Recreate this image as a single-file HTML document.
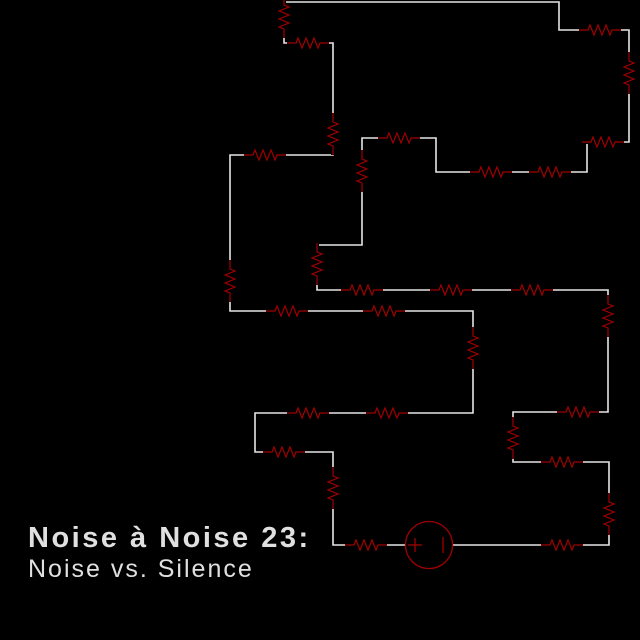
<!DOCTYPE html>
<html><head><meta charset="utf-8"><style>
html,body{margin:0;padding:0;background:#000;}
svg{display:block}
</style></head><body>
<svg width="640" height="640" viewBox="0 0 640 640" xmlns="http://www.w3.org/2000/svg">
<defs>
<g id="r">
<line x1="-21" y1="0" x2="21" y2="0" stroke="#000" stroke-width="4"/>
<path d="M-21 0H-12l2-5l4 10l4-10l4 10l4-10l4 10l2-5H21" fill="none" stroke="#a00000" stroke-width="1.2"/>
</g>
</defs>
<rect width="640" height="640" fill="#000"/>
<g fill="none" stroke="#e6e6e6" stroke-width="1.6">
<polyline points="452,545 609,545 609,462 513,462 513,412 608,412 608,290 317,290 317,245 362,245 362,138 436,138 436,172 587,172 587,142 629,142 629,30 559,30 559,2 284,2 284,43 333,43 333,155 230,155 230,311 473,311 473,413 255,413 255,452 333,452 333,545 405,545"/>
</g>
<g>
<use href="#r" transform="translate(600,30)"/>
<use href="#r" transform="translate(629,73) rotate(90)"/>
<use href="#r" transform="translate(603,142)"/>
<use href="#r" transform="translate(491,172)"/>
<use href="#r" transform="translate(550,172)"/>
<use href="#r" transform="translate(399,138)"/>
<use href="#r" transform="translate(362,171) rotate(90)"/>
<use href="#r" transform="translate(317,264) rotate(90)"/>
<use href="#r" transform="translate(362,290)"/>
<use href="#r" transform="translate(451,290)"/>
<use href="#r" transform="translate(532,290)"/>
<use href="#r" transform="translate(608,316) rotate(90)"/>
<use href="#r" transform="translate(578,412)"/>
<use href="#r" transform="translate(513,438) rotate(90)"/>
<use href="#r" transform="translate(562,462)"/>
<use href="#r" transform="translate(609,514) rotate(90)"/>
<use href="#r" transform="translate(562,545)"/>
<use href="#r" transform="translate(366,545)"/>
<use href="#r" transform="translate(333,488) rotate(90)"/>
<use href="#r" transform="translate(284,452)"/>
<use href="#r" transform="translate(308,413)"/>
<use href="#r" transform="translate(387,413)"/>
<use href="#r" transform="translate(473,348) rotate(90)"/>
<use href="#r" transform="translate(287,311)"/>
<use href="#r" transform="translate(384,311)"/>
<use href="#r" transform="translate(230,281) rotate(90)"/>
<use href="#r" transform="translate(265,155)"/>
<use href="#r" transform="translate(333,134) rotate(90)"/>
<use href="#r" transform="translate(308,43)"/>
<use href="#r" transform="translate(284,17) rotate(90)"/>
</g>
<g stroke="#a00000" stroke-width="1.3" fill="none">
<circle cx="429" cy="545" r="23.5"/>
<line x1="408" y1="545" x2="422" y2="545"/>
<line x1="415" y1="538" x2="415" y2="552"/>
<line x1="443" y1="537" x2="443" y2="553"/>
</g>
<text x="28" y="547" font-family="Liberation Sans, Arial, sans-serif" font-weight="bold" font-size="29" letter-spacing="2.5" fill="#e0e0e0">Noise à Noise 23:</text>
<text x="28" y="577" font-family="Liberation Sans, Arial, sans-serif" font-size="25" letter-spacing="2.0" fill="#e0e0e0">Noise vs. Silence</text>
</svg>
</body></html>
